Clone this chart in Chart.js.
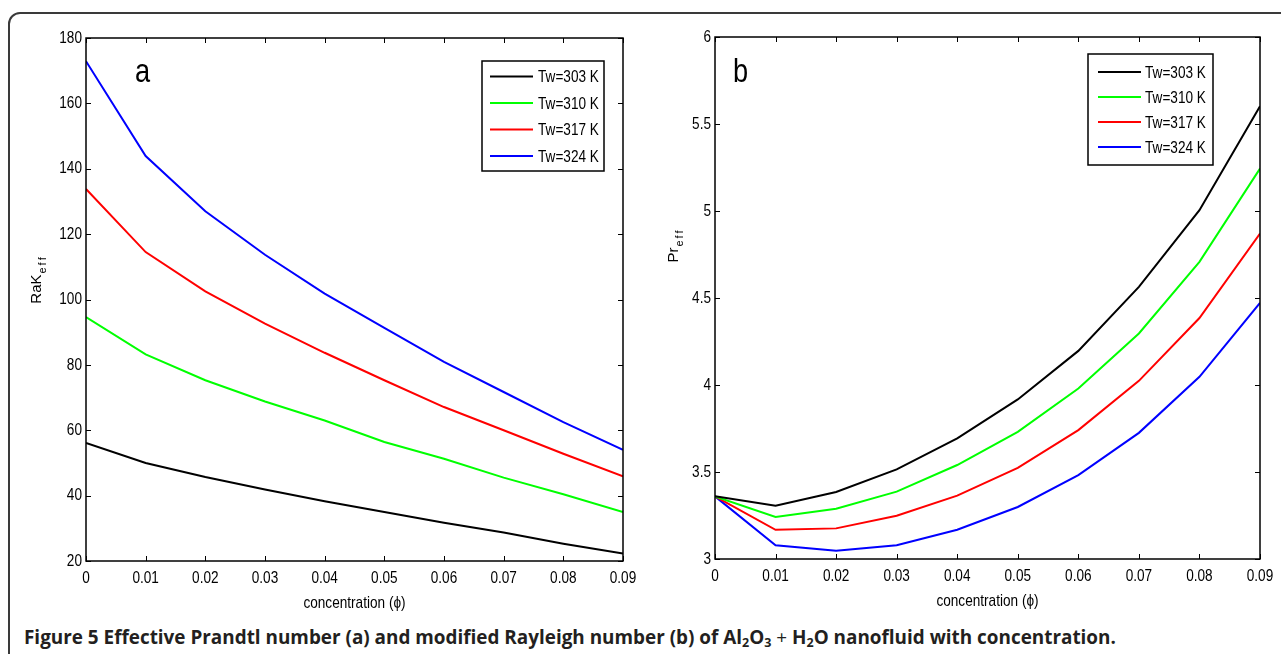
<!DOCTYPE html>
<html>
<head>
<meta charset="utf-8">
<script src="https://cdn.jsdelivr.net/npm/chart.js@4/dist/chart.umd.min.js"></script>
<style>
  body { margin: 0; background: #fff; width: 1281px; height: 654px; overflow: hidden; position: relative; }
  #frame { position: absolute; left: 8px; top: 12px; width: 1300px; height: 700px;
           border: 2px solid #3a3a3a; border-radius: 12px; box-sizing: border-box; }
  .panel { position: absolute; top: 0; height: 620px; }
  #caption { position: absolute; left: 24px; top: 624px; font-family: "Open Sans", "Noto Sans", sans-serif;
             font-weight: 700; font-size: 18.9px; color: #231f20; white-space: nowrap; }
  #caption sub { font-size: 12.5px; vertical-align: -3px; line-height: 0; }
  #caption .plus { font-weight: 400; }
</style>
</head>
<body>
<div id="frame"></div>
<div class="panel" style="left:0;width:640px"><canvas id="chartA" width="640" height="620"></canvas></div>
<div class="panel" style="left:640px;width:641px"><canvas id="chartB" width="641" height="620"></canvas></div>
<div id="caption">Figure 5 Effective Prandtl number (a) and modified Rayleigh number (b) of Al<sub>2</sub>O<sub>3</sub><span class="plus"> + </span>H<sub>2</sub>O nanofluid with concentration.</div>
<script>
// concentration (phi)
const concentration = [0, 0.01, 0.02, 0.03, 0.04, 0.05, 0.06, 0.07, 0.08, 0.09];
const seriesLabels = ['Tw=303 K', 'Tw=310 K', 'Tw=317 K', 'Tw=324 K'];
const seriesColors = ['#000000', '#00ff00', '#ff0000', '#0000ff'];

// panel a: RaK_eff
const rak303 = [56.1, 50.0, 45.7, 41.9, 38.3, 35.0, 31.7, 28.7, 25.3, 22.3];
const rak310 = [94.6, 83.2, 75.3, 68.8, 63.0, 56.4, 51.3, 45.5, 40.4, 35.0];
const rak317 = [133.8, 114.5, 102.5, 92.6, 83.7, 75.3, 67.1, 60.0, 52.8, 45.9];
const rak324 = [172.9, 143.9, 127.0, 113.7, 101.8, 91.3, 80.9, 71.7, 62.5, 54.0];

// panel b: Pr_eff
const pr303 = [3.36, 3.306, 3.385, 3.515, 3.693, 3.917, 4.196, 4.564, 5.005, 5.602];
const pr310 = [3.36, 3.241, 3.289, 3.387, 3.540, 3.731, 3.980, 4.296, 4.708, 5.244];
const pr317 = [3.36, 3.168, 3.176, 3.249, 3.364, 3.524, 3.741, 4.024, 4.385, 4.870];
const pr324 = [3.36, 3.079, 3.048, 3.079, 3.168, 3.299, 3.482, 3.725, 4.047, 4.472];

const SANS = '"Liberation Sans", Arial, sans-serif';
const SQUEEZE = 0.8; // fake a narrow Helvetica

// draw text squeezed horizontally
function narrowText(ctx, text, x, y, size, align) {
    ctx.save();
    ctx.font = size + 'px ' + SANS;
    ctx.textAlign = align;
    ctx.translate(x, y);
    ctx.scale(SQUEEZE, 1);
    ctx.fillText(text, 0, 0);
    ctx.restore();
}

const fmt = v => String(+v.toFixed(2));

// MATLAB-ish box: frame, inward ticks, tick labels, panel letter, axis titles, legend
const matlabPlugin = {
    id: 'matlab',
    afterDatasetsDraw(chart, args, opts) {
        const ctx = chart.ctx;
        const a = chart.chartArea;
        const xs = chart.scales.x, ys = chart.scales.y;
        ctx.save();
        ctx.strokeStyle = '#000';
        ctx.lineWidth = 1.5;
        ctx.strokeRect(a.left, a.top, a.right - a.left, a.bottom - a.top);
        ctx.lineWidth = 1;
        ctx.beginPath();
        xs.ticks.forEach(t => {
            const px = Math.round(xs.getPixelForValue(t.value)) + 0.5;
            ctx.moveTo(px, a.bottom); ctx.lineTo(px, a.bottom - 5);
            ctx.moveTo(px, a.top); ctx.lineTo(px, a.top + 5);
        });
        ys.ticks.forEach(t => {
            const py = Math.round(ys.getPixelForValue(t.value)) + 0.5;
            ctx.moveTo(a.left, py); ctx.lineTo(a.left + 5, py);
            ctx.moveTo(a.right, py); ctx.lineTo(a.right - 5, py);
        });
        ctx.stroke();

        // tick labels
        ctx.fillStyle = '#000';
        ctx.textBaseline = 'middle';
        xs.ticks.forEach(t => {
            narrowText(ctx, fmt(t.value), xs.getPixelForValue(t.value), a.bottom + 17, 17, 'center');
        });
        ys.ticks.forEach(t => {
            narrowText(ctx, fmt(t.value), a.left - 4, ys.getPixelForValue(t.value), 17, 'right');
        });

        // panel letter
        ctx.textBaseline = 'alphabetic';
        narrowText(ctx, opts.letter, a.left + opts.letterDx, a.top + opts.letterDy, 34, 'left');

        // x title
        ctx.textBaseline = 'middle';
        narrowText(ctx, 'concentration (\u03d5)', (a.left + a.right) / 2, a.bottom + 42, 17, 'center');

        // y title with spaced subscript, rotated
        ctx.save();
        ctx.translate(opts.yTitleX, opts.yTitleY);
        ctx.rotate(-Math.PI / 2);
        ctx.textAlign = 'left';
        ctx.textBaseline = 'alphabetic';
        ctx.font = '15px ' + SANS;
        const w1 = ctx.measureText(opts.yTitle).width;
        ctx.font = '11px ' + SANS;
        const subChars = opts.ySub.split('');
        const gap = 2;
        const w2 = subChars.reduce((s, c) => s + ctx.measureText(c).width + gap, 0);
        let x0 = -(w1 + w2) / 2;
        ctx.font = '15px ' + SANS;
        ctx.fillText(opts.yTitle, x0, 0);
        x0 += w1 + 1;
        ctx.font = '11px ' + SANS;
        subChars.forEach(c => {
            ctx.fillText(c, x0, 5);
            x0 += ctx.measureText(c).width + gap;
        });
        ctx.restore();

        // legend
        const lg = opts.legend;
        const bx = a.right + lg.dx, by = a.top + lg.dy;
        ctx.fillStyle = '#fff';
        ctx.fillRect(bx, by, lg.w, lg.h);
        ctx.strokeStyle = '#000';
        ctx.lineWidth = 1.5;
        ctx.strokeRect(bx, by, lg.w, lg.h);
        ctx.textBaseline = 'middle';
        chart.data.datasets.forEach((ds, i) => {
            const ry = by + lg.first + i * lg.step;
            ctx.strokeStyle = ds.borderColor;
            ctx.lineWidth = 2;
            ctx.beginPath();
            ctx.moveTo(bx + lg.lineX0, ry);
            ctx.lineTo(bx + lg.lineX1, ry);
            ctx.stroke();
            ctx.fillStyle = '#000';
            narrowText(ctx, ds.label, bx + lg.textX, ry + 1, 17, 'left');
        });
        ctx.restore();
    }
};

function makePanel(canvasId, series, cfg) {
    const datasets = series.map((vals, i) => ({
        label: seriesLabels[i],
        data: concentration.map((c, k) => ({ x: c, y: vals[k] })),
        borderColor: seriesColors[i],
        backgroundColor: seriesColors[i],
        borderWidth: 2,
        pointRadius: 0,
        tension: 0,
        fill: false
    }));
    return new Chart(document.getElementById(canvasId), {
        type: 'line',
        data: { datasets: datasets },
        options: {
            responsive: false,
            animation: false,
            events: [],
            layout: { padding: { left: 0, right: cfg.padRight, top: cfg.padTop, bottom: 0 } },
            plugins: {
                legend: { display: false },
                tooltip: { enabled: false },
                matlab: cfg.plugin
            },
            scales: {
                x: {
                    type: 'linear',
                    min: 0, max: 0.09,
                    ticks: { stepSize: 0.01, display: false },
                    grid: { display: false, drawTicks: false },
                    border: { display: false },
                    afterFit: s => { s.height = cfg.xHeight; s.paddingLeft = 0; s.paddingRight = 0; }
                },
                y: {
                    min: cfg.yMin, max: cfg.yMax,
                    ticks: { stepSize: cfg.yStep, display: false },
                    grid: { display: false, drawTicks: false },
                    border: { display: false },
                    afterFit: s => { s.width = cfg.yWidth; s.paddingTop = 0; s.paddingBottom = 0; }
                }
            }
        },
        plugins: [matlabPlugin]
    });
}

makePanel('chartA', [rak303, rak310, rak317, rak324], {
    yMin: 20, yMax: 180, yStep: 20,
    padTop: 38, padRight: 17, yWidth: 86, xHeight: 59,
    plugin: {
        letter: 'a', letterDx: 49, letterDy: 44,
        yTitle: 'RaK', ySub: 'eff', yTitleX: 41, yTitleY: 280,
        legend: { dx: -141, dy: 23, w: 122, h: 110, first: 15.5, step: 26.5, lineX0: 8, lineX1: 51, textX: 56 }
    }
});

makePanel('chartB', [pr303, pr310, pr317, pr324], {
    yMin: 3, yMax: 6, yStep: 0.5,
    padTop: 37, padRight: 21, yWidth: 75, xHeight: 61,
    plugin: {
        letter: 'b', letterDx: 18, letterDy: 45,
        yTitle: 'Pr', ySub: 'eff', yTitleX: 38, yTitleY: 246,
        legend: { dx: -172, dy: 17, w: 125, h: 111, first: 18, step: 25, lineX0: 10, lineX1: 53, textX: 57 }
    }
});
</script>
</body>
</html>
